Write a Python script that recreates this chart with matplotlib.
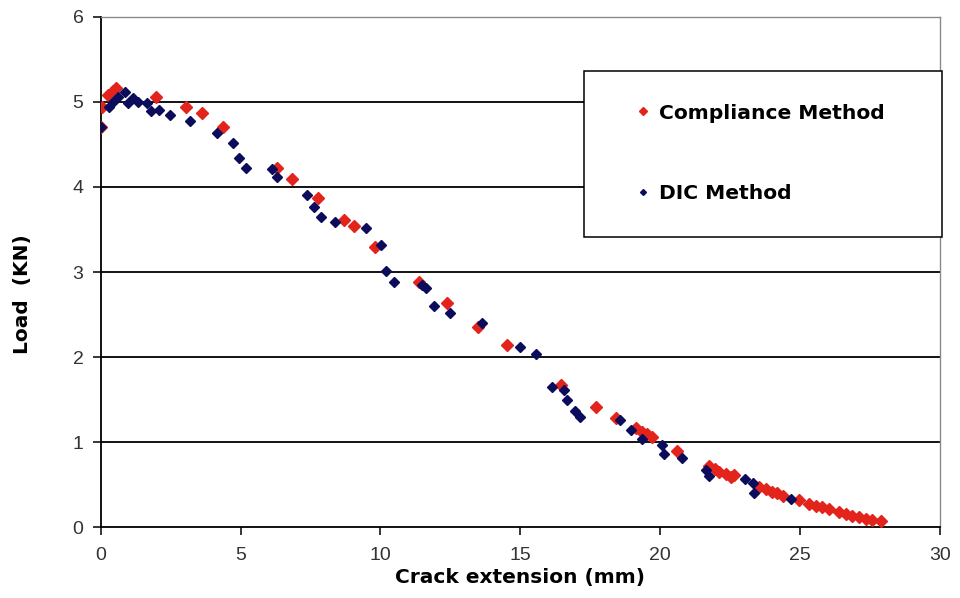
import matplotlib
matplotlib.use("Agg")
import matplotlib.pyplot as plt
from matplotlib.lines import Line2D
from matplotlib.patches import Rectangle

# Crack extension (mm) vs load (kN), two measurement methods
compliance_x = [0.0, 0.06, 0.26, 0.42, 0.56, 1.96, 3.04, 3.61, 4.36, 6.29, 6.82,
                7.75, 8.68, 9.07, 9.82, 11.39, 12.39, 13.5, 14.54, 16.46, 17.71,
                18.43, 19.14, 19.36, 19.54, 19.71, 20.61, 21.75, 21.95, 22.1, 22.35,
                22.54, 22.64, 23.54, 23.79, 24.0, 24.18, 24.39, 24.96, 25.32, 25.57,
                25.79, 26.04, 26.39, 26.64, 26.86, 27.11, 27.36, 27.57, 27.89]
compliance_y = [4.71, 4.94, 5.08, 5.13, 5.16, 5.06, 4.94, 4.87, 4.71, 4.22, 4.09,
                3.87, 3.61, 3.54, 3.29, 2.88, 2.64, 2.35, 2.14, 1.67, 1.41,
                1.28, 1.16, 1.12, 1.09, 1.06, 0.90, 0.72, 0.68, 0.65, 0.62,
                0.59, 0.61, 0.47, 0.45, 0.41, 0.40, 0.36, 0.32, 0.27, 0.25,
                0.24, 0.21, 0.18, 0.15, 0.13, 0.12, 0.10, 0.08, 0.07]

dic_x = [0.0, 0.3, 0.44, 0.6, 0.86, 0.96, 1.14, 1.32, 1.64, 1.79, 2.07, 2.46,
         3.18, 4.16, 4.71, 4.94, 5.2, 6.11, 6.29, 7.39, 7.64, 7.86, 8.36, 9.5,
         10.02, 10.21, 10.5, 11.5, 11.64, 11.93, 12.5, 13.64, 15.0, 15.57,
         16.14, 16.57, 16.68, 16.96, 17.14, 18.57, 18.96, 19.36, 20.07, 20.14,
         20.79, 21.64, 21.75, 23.04, 23.32, 23.36, 24.68]
dic_y = [4.71, 4.94, 5.0, 5.06, 5.12, 4.99, 5.05, 5.0, 4.99, 4.89, 4.9, 4.85,
         4.78, 4.63, 4.52, 4.34, 4.22, 4.21, 4.12, 3.91, 3.76, 3.65, 3.59, 3.52,
         3.32, 3.01, 2.88, 2.85, 2.81, 2.60, 2.52, 2.40, 2.12, 2.04,
         1.65, 1.61, 1.49, 1.36, 1.29, 1.26, 1.14, 1.04, 0.96, 0.86,
         0.81, 0.67, 0.60, 0.56, 0.52, 0.40, 0.33]

x_ticks = [0, 5, 10, 15, 20, 25, 30]
y_ticks = [0, 1, 2, 3, 4, 5, 6]

RED = "#E3241D"
NAVY = "#0C0C5C"
BOLD_FONT = ["DejaVu Sans"]

plt.rcParams["font.family"] = ["Liberation Sans", "DejaVu Sans"]

fig = plt.figure(figsize=(9.6, 5.98), dpi=100)
ax = fig.add_axes([0.105, 0.1187, 0.874, 0.8529])

for yv in y_ticks[1:-1]:
    ax.axhline(yv, color="black", lw=1.3, zorder=1)

ax.plot(compliance_x, compliance_y, ls="none", marker="D", ms=6.2, mew=1.0,
        color=RED, mec=RED, zorder=3, label="Compliance Method")
ax.plot(dic_x, dic_y, ls="none", marker="D", ms=4.8, mew=1.0,
        color=NAVY, mec=NAVY, zorder=4, label="DIC Method")

ax.set_xlim(0, 30)
ax.set_ylim(0, 6)
ax.set_xticks(x_ticks)
ax.set_yticks(y_ticks)
ax.tick_params(direction="out", length=5.5, width=1.1, colors="black",
               labelcolor="#333333", labelsize=14)
ax.tick_params(axis="x", pad=9)
ax.tick_params(axis="y", pad=7)

for side in ("left", "bottom"):
    ax.spines[side].set_color("black")
    ax.spines[side].set_linewidth(1.3)
for side in ("top", "right"):
    ax.spines[side].set_color("#8a8a8a")
    ax.spines[side].set_linewidth(1.0)

ax.set_xlabel("Crack extension (mm)", fontsize=14.5, fontweight="bold",
              family=BOLD_FONT, labelpad=3)
ax.set_ylabel("Load  (KN)", fontsize=14.5, fontweight="bold", family=BOLD_FONT)
ax.yaxis.set_label_coords(-0.082, 0.457)

# Legend box
frame = Rectangle((584 / 960, 1 - 237 / 598), (942 - 584) / 960, (237 - 71) / 598,
                  transform=fig.transFigure, facecolor="white", edgecolor="black",
                  lw=1.1, clip_on=False, zorder=6)
ax.add_patch(frame)

handles = [
    Line2D([], [], ls="none", marker="D", ms=4.2, color=RED),
    Line2D([], [], ls="none", marker="D", ms=3.0, color=NAVY),
]
leg = ax.legend(handles, ["Compliance Method", "DIC Method"],
                loc="center left", bbox_to_anchor=(636 / 960, 1 - 153.5 / 598),
                bbox_transform=fig.transFigure, frameon=False,
                prop={"weight": "bold", "size": 14.6, "family": BOLD_FONT},
                labelspacing=3.05, handletextpad=0.45, handlelength=0.7,
                borderpad=0, borderaxespad=0)
leg.set_zorder(7)

fig.savefig("out.png", dpi=100, facecolor="white")
